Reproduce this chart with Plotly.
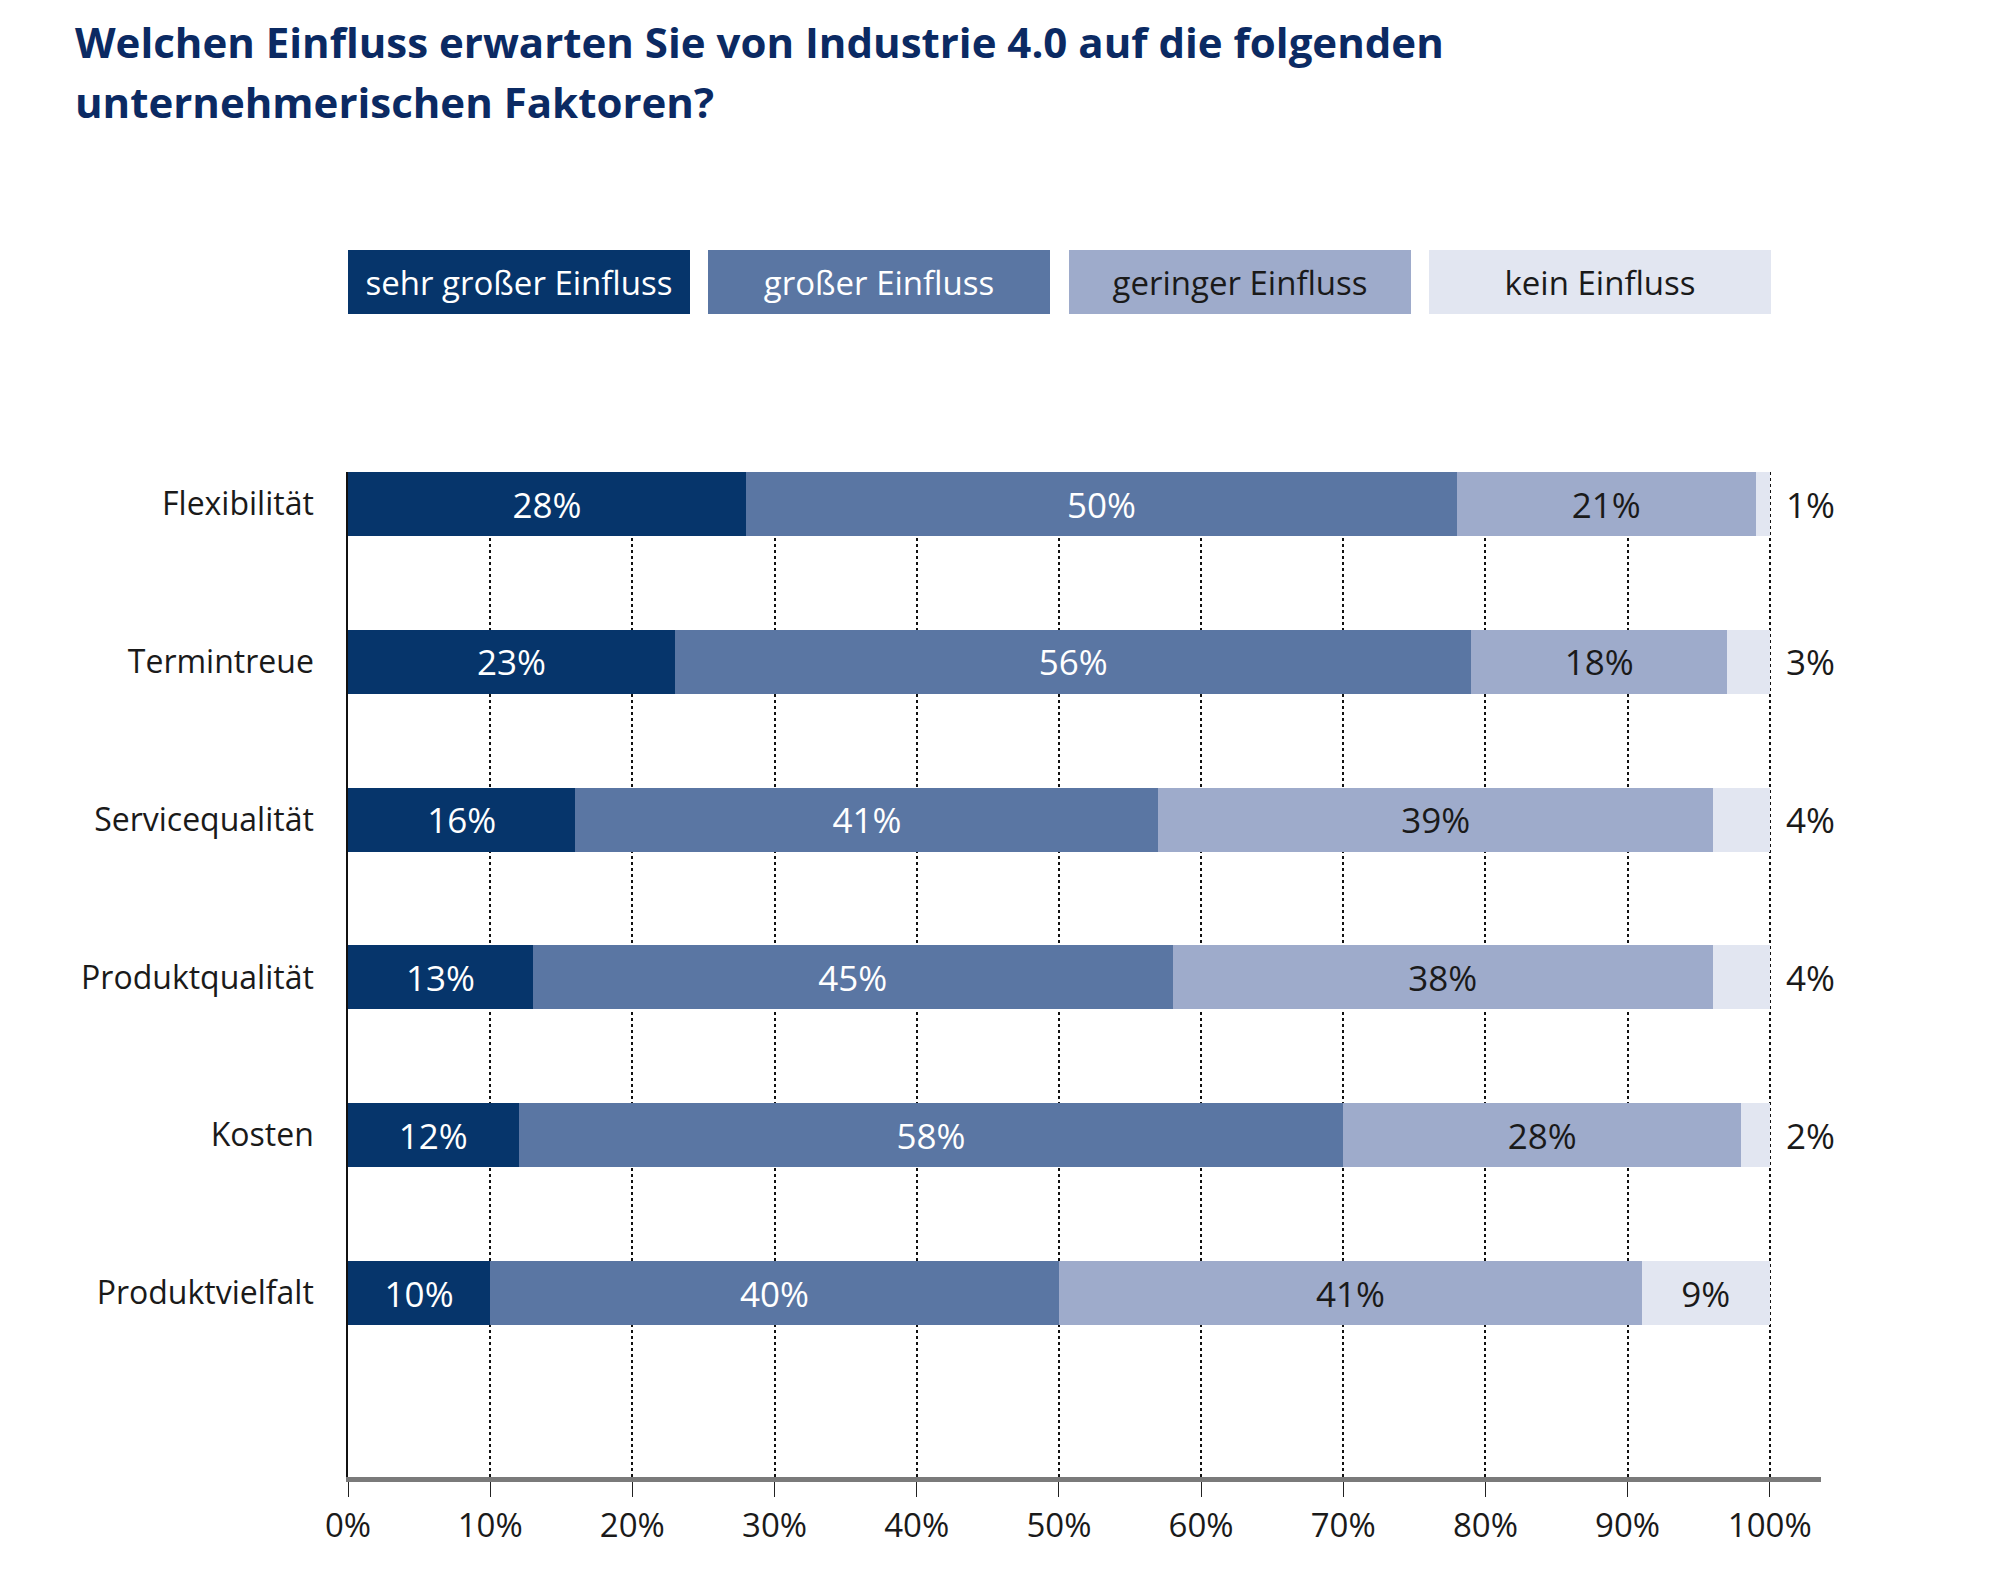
import plotly.graph_objects as go

categories = ["Flexibilität", "Termintreue", "Servicequalität", "Produktqualität", "Kosten", "Produktvielfalt"]
series_names = ["sehr großer Einfluss", "großer Einfluss", "geringer Einfluss", "kein Einfluss"]
sehr_gross = [28, 23, 16, 13, 12, 10]
gross = [50, 56, 41, 45, 58, 40]
gering = [21, 18, 39, 38, 28, 41]
kein = [1, 3, 4, 4, 2, 9]
tick_vals = [0, 10, 20, 30, 40, 50, 60, 70, 80, 90, 100]
tick_labels = ["0%", "10%", "20%", "30%", "40%", "50%", "60%", "70%", "80%", "90%", "100%"]
title_lines = ["Welchen Einfluss erwarten Sie von Industrie 4.0 auf die folgenden",
               "unternehmerischen Faktoren?"]

colors = ["#06356b", "#5a76a3", "#9eabcb", "#e2e6f1"]
text_colors = ["white", "white", "#1a1a1a", "#1a1a1a"]
FONT = "Open Sans"

W, H = 2000, 1592
L, R, T, B = 348, 179, 472, 115
pw, ph = W - L - R, H - T - B

fig = go.Figure()
all_series = [sehr_gross, gross, gering, kein]
for i, (name, vals) in enumerate(zip(series_names, all_series)):
    if i == 3:
        txt = [f"{v}%" if v >= 8 else "" for v in vals]
    else:
        txt = [f"{v}%" for v in vals]
    fig.add_trace(go.Bar(
        y=categories, x=vals, name=name, orientation="h",
        marker=dict(color=colors[i], line=dict(width=0)),
        width=0.406,
        text=txt,
        textposition="inside",
        insidetextanchor="middle",
        constraintext="none",
        cliponaxis=False,
        insidetextfont=dict(family=FONT, size=35, color=text_colors[i]),
        showlegend=False,
    ))

# small "kein Einfluss" values shown to the right of the bar
for j, cat in enumerate(categories):
    v = kein[j]
    if v < 8:
        total = sehr_gross[j] + gross[j] + gering[j] + kein[j]
        fig.add_annotation(
            x=total, y=cat, xref="x", yref="y", xanchor="left", yanchor="middle",
            xshift=14, text=f"{v}%", showarrow=False,
            font=dict(family=FONT, size=35, color="#1a1a1a"),
        )

# legend boxes as annotations
box_centers = [519, 879, 1240, 1600]
for i, name in enumerate(series_names):
    fig.add_annotation(
        xref="paper", yref="paper",
        x=(box_centers[i] - L) / pw, y=(H - B - 282) / ph,
        xanchor="center", yanchor="middle",
        text=name, showarrow=False,
        width=342, height=64, bgcolor=colors[i], borderpad=0, borderwidth=0,
        font=dict(family=FONT, size=33, color=text_colors[i]),
        align="center", valign="middle",
    )

# title (two lines)
for k, (line, yc) in enumerate(zip(title_lines, [42, 102])):
    fig.add_annotation(
        xref="paper", yref="paper",
        x=(73 - L) / pw, y=(H - B - yc) / ph,
        xanchor="left", yanchor="middle", align="left",
        text=line, showarrow=False,
        font=dict(family=FONT, size=42, color="#0b2a63", weight="bold"),
    )

fig.update_layout(
    width=W, height=H,
    margin=dict(l=L, r=R, t=T, b=B, autoexpand=False),
    barmode="stack",
    plot_bgcolor="white", paper_bgcolor="white",
    font=dict(family=FONT, color="#1a1a1a"),
)
fig.update_xaxes(
    range=[0, 103.6], tickvals=tick_vals, ticktext=tick_labels,
    showgrid=True, gridcolor="#111111", griddash="dot", gridwidth=1.8,
    zeroline=False, showline=True, linecolor="#7a7a7a", linewidth=5,
    ticks="outside", ticklen=15, tickcolor="#222222", tickwidth=1,
    tickfont=dict(family=FONT, size=33, color="#1a1a1a"),
)
fig.update_yaxes(
    range=[6.166, -0.203], showgrid=False, zeroline=False,
    showline=True, linecolor="#111111", linewidth=1.5,
    ticks="", ticklabelstandoff=26,
    tickfont=dict(family=FONT, size=32, color="#1a1a1a"),
)

fig.write_html("out.html")
